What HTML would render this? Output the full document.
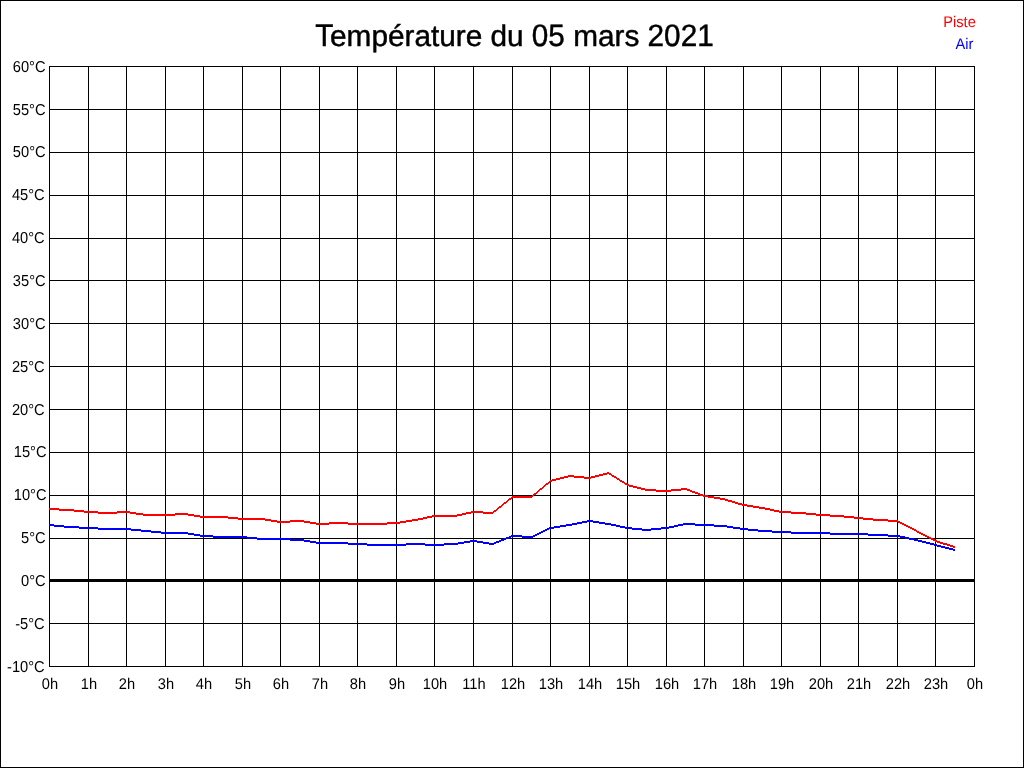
<!DOCTYPE html>
<html lang="fr">
<head>
<meta charset="utf-8">
<title>Température du 05 mars 2021</title>
<style>
html,body{margin:0;padding:0;background:#fff;}
body{width:1024px;height:768px;overflow:hidden;position:relative;}
svg{position:absolute;left:0;top:0;display:block;}
text{font-family:"Liberation Sans",Arial,Helvetica,sans-serif;font-size:14.67px;fill:#000;text-rendering:geometricPrecision;}
.title{font-size:29.75px;stroke:#000;stroke-width:0.45px;white-space:pre;}
.red{fill:#ff0000;}
.blue{fill:#0000ff;}
</style>
</head>
<body>
<svg width="1024" height="768" viewBox="0 0 1024 768">
<path d="M0 0h1024v768h-1024z M1 1v766h1022v-766z" fill="#000" fill-rule="evenodd" shape-rendering="crispEdges"/>
<path d="M49 66h1v601h-1zM88 66h1v601h-1zM126 66h1v601h-1zM165 66h1v601h-1zM203 66h1v601h-1zM242 66h1v601h-1zM280 66h1v601h-1zM319 66h1v601h-1zM357 66h1v601h-1zM396 66h1v601h-1zM434 66h1v601h-1zM473 66h1v601h-1zM512 66h1v601h-1zM550 66h1v601h-1zM589 66h1v601h-1zM627 66h1v601h-1zM666 66h1v601h-1zM704 66h1v601h-1zM743 66h1v601h-1zM781 66h1v601h-1zM820 66h1v601h-1zM858 66h1v601h-1zM897 66h1v601h-1zM935 66h1v601h-1zM974 66h1v601h-1zM49 66h926v1h-926zM49 109h926v1h-926zM49 152h926v1h-926zM49 195h926v1h-926zM49 238h926v1h-926zM49 280h926v1h-926zM49 323h926v1h-926zM49 366h926v1h-926zM49 409h926v1h-926zM49 452h926v1h-926zM49 495h926v1h-926zM49 538h926v1h-926zM49 580h926v1h-926zM49 623h926v1h-926zM49 666h926v1h-926zM49 579h926v3h-926z" fill="#000" shape-rendering="crispEdges"/>
<path d="M49 508h10v2h-10zM59 509h15v2h-15zM74 510h10v2h-10zM84 511h14v2h-14zM98 512h19v2h-19zM117 511h13v2h-13zM130 512h6v2h-6zM136 513h7v2h-7zM143 514h32v2h-32zM175 513h13v2h-13zM188 514h6v2h-6zM194 515h6v2h-6zM200 516h28v2h-28zM228 517h10v2h-10zM238 518h27v2h-27zM265 519h6v2h-6zM271 520h6v2h-6zM277 521h13v2h-13zM290 520h14v2h-14zM304 521h6v2h-6zM310 522h6v2h-6zM316 523h13v2h-13zM329 522h19v2h-19zM348 523h39v2h-39zM387 522h13v2h-13zM400 521h6v2h-6zM406 520h6v2h-6zM412 519h6v2h-6zM418 518h5v2h-5zM423 517h4v2h-4zM427 516h5v2h-5zM432 515h25v2h-25zM457 514h5v2h-5zM462 513h4v2h-4zM466 512h5v2h-5zM471 511h12v2h-12zM483 512h10v2h-10zM493 511h1v2h-1zM494 510h2v2h-2zM496 509h1v2h-1zM497 508h1v2h-1zM498 507h1v2h-1zM499 506h2v2h-2zM501 505h1v2h-1zM502 504h1v2h-1zM503 503h1v2h-1zM504 502h2v2h-2zM506 501h1v2h-1zM507 500h1v2h-1zM508 499h1v2h-1zM509 498h2v2h-2zM511 497h1v2h-1zM512 496h20v2h-20zM532 495h1v2h-1zM533 494h1v2h-1zM534 493h2v2h-2zM536 492h1v2h-1zM537 491h1v2h-1zM538 490h1v2h-1zM539 489h1v2h-1zM540 488h2v2h-2zM542 487h1v2h-1zM543 486h1v2h-1zM544 485h1v2h-1zM545 484h1v2h-1zM546 483h2v2h-2zM548 482h1v2h-1zM549 481h1v2h-1zM550 480h2v2h-2zM552 479h4v2h-4zM556 478h4v2h-4zM560 477h4v2h-4zM564 476h4v2h-4zM568 475h6v2h-6zM574 476h10v2h-10zM584 477h7v2h-7zM591 476h4v2h-4zM595 475h4v2h-4zM599 474h4v2h-4zM603 473h4v2h-4zM607 472h2v2h-2zM609 473h2v2h-2zM611 474h1v2h-1zM612 475h2v2h-2zM614 476h2v2h-2zM616 477h1v2h-1zM617 478h2v2h-2zM619 479h1v2h-1zM620 480h2v2h-2zM622 481h2v2h-2zM624 482h1v2h-1zM625 483h2v2h-2zM627 484h2v2h-2zM629 485h4v2h-4zM633 486h4v2h-4zM637 487h4v2h-4zM641 488h4v2h-4zM645 489h11v2h-11zM656 490h15v2h-15zM671 489h10v2h-10zM681 488h6v2h-6zM687 489h3v2h-3zM690 490h2v2h-2zM692 491h3v2h-3zM695 492h3v2h-3zM698 493h2v2h-2zM700 494h3v2h-3zM703 495h5v2h-5zM708 496h6v2h-6zM714 497h6v2h-6zM720 498h5v2h-5zM725 499h3v2h-3zM728 500h4v2h-4zM732 501h3v2h-3zM735 502h3v2h-3zM738 503h4v2h-4zM742 504h5v2h-5zM747 505h6v2h-6zM753 506h6v2h-6zM759 507h6v2h-6zM765 508h5v2h-5zM770 509h4v2h-4zM774 510h5v2h-5zM779 511h12v2h-12zM791 512h15v2h-15zM806 513h10v2h-10zM816 514h14v2h-14zM830 515h14v2h-14zM844 516h10v2h-10zM854 517h9v2h-9zM863 518h10v2h-10zM873 519h15v2h-15zM888 520h10v2h-10zM898 521h2v2h-2zM900 522h2v2h-2zM902 523h2v2h-2zM904 524h2v2h-2zM906 525h2v2h-2zM908 526h2v2h-2zM910 527h2v2h-2zM912 528h2v2h-2zM914 529h2v2h-2zM916 530h1v2h-1zM917 531h2v2h-2zM919 532h2v2h-2zM921 533h2v2h-2zM923 534h2v2h-2zM925 535h2v2h-2zM927 536h2v2h-2zM929 537h2v2h-2zM931 538h2v2h-2zM933 539h2v2h-2zM935 540h2v2h-2zM937 541h3v2h-3zM940 542h3v2h-3zM943 543h4v2h-4zM947 544h3v2h-3zM950 545h3v2h-3zM953 546h2v2h-2z" fill="#ff0000" shape-rendering="crispEdges"/>
<path d="M49 524h5v2h-5zM54 525h10v2h-10zM64 526h15v2h-15zM79 527h19v2h-19zM98 528h33v2h-33zM131 529h10v2h-10zM141 530h10v2h-10zM151 531h10v2h-10zM161 532h27v2h-27zM188 533h6v2h-6zM194 534h6v2h-6zM200 535h13v2h-13zM213 536h34v2h-34zM247 537h10v2h-10zM257 538h33v2h-33zM290 539h14v2h-14zM304 540h6v2h-6zM310 541h6v2h-6zM316 542h32v2h-32zM348 543h19v2h-19zM367 544h39v2h-39zM406 543h19v2h-19zM425 544h19v2h-19zM444 543h14v2h-14zM458 542h6v2h-6zM464 541h6v2h-6zM470 540h7v2h-7zM477 541h6v2h-6zM483 542h6v2h-6zM489 543h5v2h-5zM494 542h2v2h-2zM496 541h3v2h-3zM499 540h2v2h-2zM501 539h3v2h-3zM504 538h2v2h-2zM506 537h3v2h-3zM509 536h2v2h-2zM511 535h11v2h-11zM522 536h11v2h-11zM533 535h2v2h-2zM535 534h2v2h-2zM537 533h2v2h-2zM539 532h2v2h-2zM541 531h2v2h-2zM543 530h2v2h-2zM545 529h2v2h-2zM547 528h2v2h-2zM549 527h5v2h-5zM554 526h6v2h-6zM560 525h6v2h-6zM566 524h6v2h-6zM572 523h5v2h-5zM577 522h5v2h-5zM582 521h5v2h-5zM587 520h6v2h-6zM593 521h6v2h-6zM599 522h6v2h-6zM605 523h6v2h-6zM611 524h5v2h-5zM616 525h4v2h-4zM620 526h5v2h-5zM625 527h7v2h-7zM632 528h10v2h-10zM642 529h9v2h-9zM651 528h10v2h-10zM661 527h8v2h-8zM669 526h5v2h-5zM674 525h4v2h-4zM678 524h5v2h-5zM683 523h12v2h-12zM695 524h19v2h-19zM714 525h13v2h-13zM727 526h6v2h-6zM733 527h7v2h-7zM740 528h8v2h-8zM748 529h10v2h-10zM758 530h14v2h-14zM772 531h19v2h-19zM791 532h39v2h-39zM830 533h38v2h-38zM868 534h20v2h-20zM888 535h12v2h-12zM900 536h5v2h-5zM905 537h4v2h-4zM909 538h5v2h-5zM914 539h4v2h-4zM918 540h4v2h-4zM922 541h4v2h-4zM926 542h4v2h-4zM930 543h4v2h-4zM934 544h3v2h-3zM937 545h4v2h-4zM941 546h4v2h-4zM945 547h4v2h-4zM949 548h4v2h-4zM953 549h2v2h-2z" fill="#0000ff" shape-rendering="crispEdges"/>
<text class="title" x="315.20" y="45.8"><tspan font-size="31.24" textLength="18.18" lengthAdjust="spacingAndGlyphs">T</tspan><tspan x="330.07">empérature du </tspan><tspan x="531.82" font-size="30.94" textLength="33.08" lengthAdjust="spacingAndGlyphs">05</tspan><tspan x="564.91"> mars </tspan><tspan x="647.56" font-size="30.94" textLength="66.16" lengthAdjust="spacingAndGlyphs">2021</tspan></text>
<text transform="translate(975.80 27.00) scale(1 1.05)" text-anchor="end" class="red">Piste</text>
<text transform="translate(973.30 49.00) scale(1 1.05)" text-anchor="end" class="blue">Air</text>
<text transform="translate(45.50 72.00) scale(1 1.08)" text-anchor="end">60°C</text>
<text transform="translate(45.50 115.00) scale(1 1.08)" text-anchor="end">55°C</text>
<text transform="translate(45.60 157.00) scale(1 1.08)" text-anchor="end">50°C</text>
<text transform="translate(44.70 200.00) scale(1 1.08)" text-anchor="end">45°C</text>
<text transform="translate(44.70 243.00) scale(1 1.08)" text-anchor="end">40°C</text>
<text transform="translate(45.60 286.00) scale(1 1.08)" text-anchor="end">35°C</text>
<text transform="translate(45.60 329.00) scale(1 1.08)" text-anchor="end">30°C</text>
<text transform="translate(44.70 372.00) scale(1 1.08)" text-anchor="end">25°C</text>
<text transform="translate(44.70 415.00) scale(1 1.08)" text-anchor="end">20°C</text>
<text transform="translate(46.50 457.00) scale(1 1.08)" text-anchor="end">15°C</text>
<text transform="translate(46.50 500.00) scale(1 1.08)" text-anchor="end">10°C</text>
<text transform="translate(45.60 543.00) scale(1 1.08)" text-anchor="end">5°C</text>
<text transform="translate(45.60 586.00) scale(1 1.08)" text-anchor="end">0°C</text>
<text transform="translate(44.70 629.00) scale(1 1.08)" text-anchor="end">-5°C</text>
<text transform="translate(44.70 672.00) scale(1 1.08)" text-anchor="end">-10°C</text>
<text transform="translate(50.00 689.00) scale(1 1.05)" text-anchor="middle" font-size="14.3">0h</text>
<text transform="translate(89.00 689.00) scale(1 1.05)" text-anchor="middle" font-size="14.3">1h</text>
<text transform="translate(127.00 689.00) scale(1 1.05)" text-anchor="middle" font-size="14.3">2h</text>
<text transform="translate(166.00 689.00) scale(1 1.05)" text-anchor="middle" font-size="14.3">3h</text>
<text transform="translate(204.00 689.00) scale(1 1.05)" text-anchor="middle" font-size="14.3">4h</text>
<text transform="translate(243.00 689.00) scale(1 1.05)" text-anchor="middle" font-size="14.3">5h</text>
<text transform="translate(281.00 689.00) scale(1 1.05)" text-anchor="middle" font-size="14.3">6h</text>
<text transform="translate(320.00 689.00) scale(1 1.05)" text-anchor="middle" font-size="14.3">7h</text>
<text transform="translate(358.00 689.00) scale(1 1.05)" text-anchor="middle" font-size="14.3">8h</text>
<text transform="translate(397.00 689.00) scale(1 1.05)" text-anchor="middle" font-size="14.3">9h</text>
<text transform="translate(435.00 689.00) scale(1 1.05)" text-anchor="middle" font-size="14.3">10h</text>
<text transform="translate(474.00 689.00) scale(1 1.05)" text-anchor="middle" font-size="14.3">11h</text>
<text transform="translate(513.00 689.00) scale(1 1.05)" text-anchor="middle" font-size="14.3">12h</text>
<text transform="translate(551.00 689.00) scale(1 1.05)" text-anchor="middle" font-size="14.3">13h</text>
<text transform="translate(590.00 689.00) scale(1 1.05)" text-anchor="middle" font-size="14.3">14h</text>
<text transform="translate(628.00 689.00) scale(1 1.05)" text-anchor="middle" font-size="14.3">15h</text>
<text transform="translate(667.00 689.00) scale(1 1.05)" text-anchor="middle" font-size="14.3">16h</text>
<text transform="translate(705.00 689.00) scale(1 1.05)" text-anchor="middle" font-size="14.3">17h</text>
<text transform="translate(744.00 689.00) scale(1 1.05)" text-anchor="middle" font-size="14.3">18h</text>
<text transform="translate(782.00 689.00) scale(1 1.05)" text-anchor="middle" font-size="14.3">19h</text>
<text transform="translate(821.00 689.00) scale(1 1.05)" text-anchor="middle" font-size="14.3">20h</text>
<text transform="translate(859.00 689.00) scale(1 1.05)" text-anchor="middle" font-size="14.3">21h</text>
<text transform="translate(898.00 689.00) scale(1 1.05)" text-anchor="middle" font-size="14.3">22h</text>
<text transform="translate(936.00 689.00) scale(1 1.05)" text-anchor="middle" font-size="14.3">23h</text>
<text transform="translate(975.00 689.00) scale(1 1.05)" text-anchor="middle" font-size="14.3">0h</text>
</svg>
</body>
</html>
